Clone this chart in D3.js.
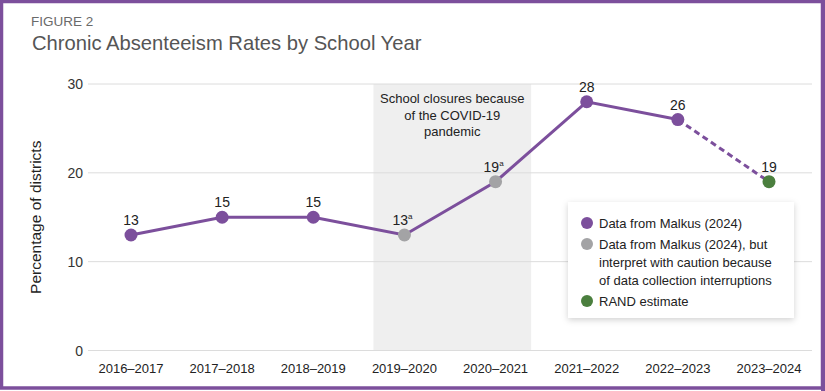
<!DOCTYPE html>
<html>
<head>
<meta charset="utf-8">
<script src="https://cdn.jsdelivr.net/npm/d3@7"></script>
<style>
  html, body { margin: 0; padding: 0; background: #fff; }
  svg { display: block; font-family: "Liberation Sans", Arial, sans-serif; }
</style>
</head>
<body>
<div id="chart"></div>
<script>
// school years on the x axis
var years = ["2016–2017", "2017–2018", "2018–2019", "2019–2020", "2020–2021", "2021–2022", "2022–2023", "2023–2024"];
// percentage of districts
var values = [13, 15, 15, 13, 19, 28, 26, 19];
// which kind of point each year is
var kinds = ["malkus", "malkus", "malkus", "caution", "caution", "malkus", "malkus", "rand"];
var footnote = ["", "", "", "a", "a", "", "", ""];
var yTicks = [0, 10, 20, 30];
var legendItems = [
    {kind: "malkus", lines: ["Data from Malkus (2024)"]},
    {kind: "caution", lines: ["Data from Malkus (2024), but", "interpret with caution because", "of data collection interruptions"]},
    {kind: "rand", lines: ["RAND estimate"]}
];
var closureNote = ["School closures because", "of the COVID-19", "pandemic"];

var colors = {malkus: "#7c4f9c", caution: "#a3a3a5", rand: "#4b7f3e"};
var purple = "#7c4f9c";

var width = 825, height = 391;
var svg = d3.select("#chart").append("svg")
    .attr("width", width)
    .attr("height", height);

var defs = svg.append("defs");
var f = defs.append("filter").attr("id", "shadow")
    .attr("x", "-10%").attr("y", "-10%").attr("width", "120%").attr("height", "130%");
f.append("feDropShadow").attr("dx", 0).attr("dy", 2).attr("stdDeviation", 3)
    .attr("flood-color", "#000").attr("flood-opacity", 0.18);

// purple frame
svg.append("rect")
    .attr("x", 1.5).attr("y", 1.5)
    .attr("width", width - 4).attr("height", height - 4.5)
    .attr("fill", "none")
    .attr("stroke", purple)
    .attr("stroke-width", 3.5);
svg.append("rect")
    .attr("x", width - 4).attr("y", 0).attr("width", 4).attr("height", height)
    .attr("fill", purple);

// titles
svg.append("text")
    .attr("x", 31).attr("y", 26)
    .attr("font-size", 13.5)
    .attr("fill", "#6a6a6a")
    .text("FIGURE 2");
svg.append("text")
    .attr("x", 32).attr("y", 50)
    .attr("font-size", 20.2)
    .attr("fill", "#555")
    .text("Chronic Absenteeism Rates by School Year");

var x = d3.scalePoint().domain(years).range([131, 769]);
var y = d3.scaleLinear().domain([0, 30]).range([350.5, 84]);
var step = x.step();

// shaded closure period
var shadeLeft = x(years[3]) - step * 0.34;
var shadeRight = x(years[4]) + step * 0.39;
svg.append("rect")
    .attr("x", shadeLeft).attr("y", y(30))
    .attr("width", shadeRight - shadeLeft)
    .attr("height", y(0) - y(30))
    .attr("fill", "#efefef");

// gridlines and y axis labels
var yAxis = svg.append("g").attr("class", "y axis");
yAxis.selectAll("line")
    .data(yTicks)
    .enter()
    .append("line")
    .attr("x1", 88).attr("x2", 812)
    .attr("y1", function (d) { return y(d); })
    .attr("y2", function (d) { return y(d); })
    .attr("stroke", "#dcdcdc")
    .attr("stroke-width", 1);
yAxis.selectAll("text")
    .data(yTicks)
    .enter()
    .append("text")
    .attr("x", 83)
    .attr("y", function (d) { return y(d) + 5; })
    .attr("text-anchor", "end")
    .attr("font-size", 14)
    .attr("fill", "#333")
    .text(function (d) { return d; });

svg.append("text")
    .attr("transform", "translate(41," + y(15) + ") rotate(-90)")
    .attr("text-anchor", "middle")
    .attr("font-size", 15.5)
    .attr("fill", "#222")
    .text("Percentage of districts");

// x axis labels
svg.append("g").attr("class", "x axis")
    .selectAll("text")
    .data(years)
    .enter()
    .append("text")
    .attr("x", function (d) { return x(d); })
    .attr("y", 373)
    .attr("text-anchor", "middle")
    .attr("font-size", 13)
    .attr("fill", "#222")
    .text(function (d) { return d; });

// closure note
svg.append("text")
    .attr("font-size", 13)
    .attr("fill", "#222")
    .attr("text-anchor", "middle")
    .selectAll("tspan")
    .data(closureNote)
    .enter()
    .append("tspan")
    .attr("x", (shadeLeft + shadeRight) / 2)
    .attr("y", function (d, i) { return 103 + i * 16.5; })
    .text(function (d) { return d; });

// line: solid up to 2022–2023, dashed to the estimate
var line = d3.line()
    .x(function (d, i) { return x(years[i]); })
    .y(function (d) { return y(d); });
var solid = values.slice(0, 7);
svg.append("path")
    .datum(solid)
    .attr("d", line)
    .attr("fill", "none")
    .attr("stroke", purple)
    .attr("stroke-width", 3);
svg.append("line")
    .attr("x1", x(years[6])).attr("y1", y(values[6]))
    .attr("x2", x(years[7])).attr("y2", y(values[7]))
    .attr("stroke", purple)
    .attr("stroke-width", 3)
    .attr("stroke-dasharray", "6,4");

// points
svg.selectAll(".pt")
    .data(values)
    .enter()
    .append("circle")
    .attr("class", "pt")
    .attr("cx", function (d, i) { return x(years[i]); })
    .attr("cy", function (d) { return y(d); })
    .attr("r", 6.5)
    .attr("fill", function (d, i) { return colors[kinds[i]]; });

// value labels
var labels = svg.selectAll(".lbl")
    .data(values)
    .enter()
    .append("text")
    .attr("class", "lbl")
    .attr("x", function (d, i) { return x(years[i]) + (footnote[i] ? -2 : 0); })
    .attr("y", function (d) { return y(d) - 10; })
    .attr("text-anchor", "middle")
    .attr("font-size", 14)
    .attr("fill", "#222");
labels.append("tspan").text(function (d) { return d; });
labels.append("tspan")
    .attr("font-size", 8)
    .attr("dy", -6)
    .text(function (d, i) { return footnote[i]; });

// legend
var lg = svg.append("g").attr("transform", "translate(568,202)");
lg.append("rect")
    .attr("width", 226).attr("height", 116)
    .attr("fill", "#fff")
    .attr("filter", "url(#shadow)");
var rowY = 0;
legendItems.forEach(function (item) {
    var g = lg.append("g").attr("transform", "translate(0," + (21 + rowY) + ")");
    g.append("circle")
        .attr("cx", 19).attr("cy", 0).attr("r", 6)
        .attr("fill", colors[item.kind]);
    g.append("text")
        .attr("font-size", 13)
        .attr("fill", "#222")
        .selectAll("tspan")
        .data(item.lines)
        .enter()
        .append("tspan")
        .attr("x", 31)
        .attr("y", function (d, i) { return 5 + i * 18; })
        .text(function (d) { return d; });
    rowY += item.lines.length * 18 + 3;
});
</script>
</body>
</html>
